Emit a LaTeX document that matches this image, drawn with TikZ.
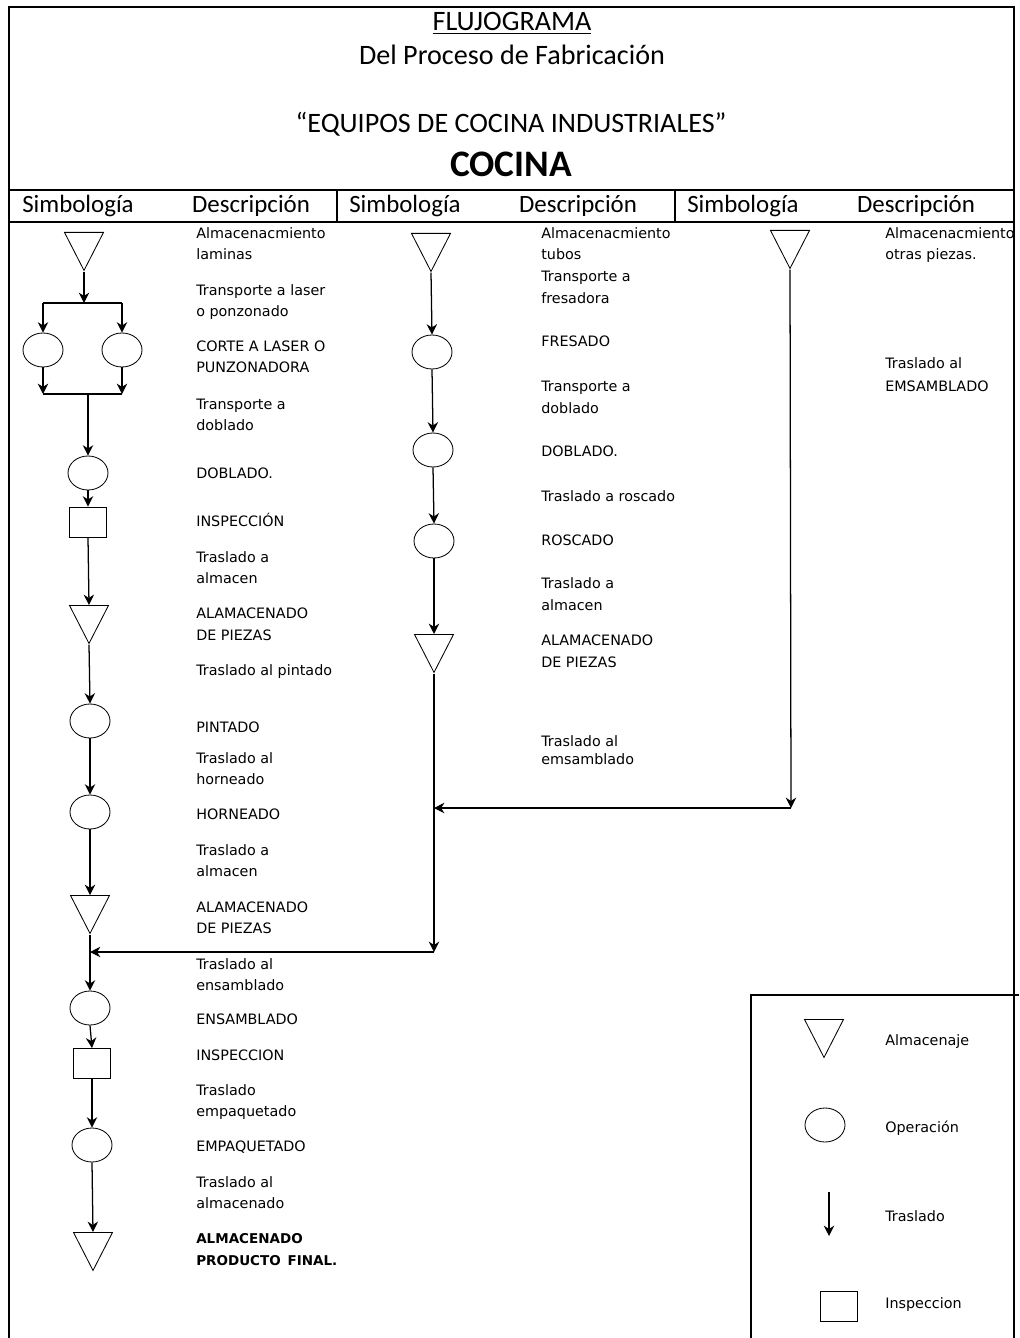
\documentclass[tikz,border=0pt]{standalone}
\usepackage{fontspec}
\setmainfont{Carlito}
\newfontfamily\descfont{DejaVu Sans}
\usetikzlibrary{shapes.geometric,arrows.meta}
\tikzset{
  alm/.style={draw, line width=0.6pt, isosceles triangle, isosceles triangle stretches, shape border rotate=270, minimum width=0.975cm, minimum height=0.95cm, inner sep=0pt, anchor=lower side},
  opera/.style={draw, line width=0.6pt, ellipse, minimum width=1cm, minimum height=0.85cm, inner sep=0pt},
  insp/.style={draw, line width=0.6pt, rectangle, minimum width=0.925cm, minimum height=0.75cm, inner sep=0pt},
  tras/.style={line width=0.9pt, -{Stealth[length=2.6mm,width=2.6mm]}},
  desc/.style={anchor=base west, inner sep=0pt, font=\descfont\fontsize{10.2}{12}\selectfont},
  descb/.style={desc, font=\descfont\bfseries\fontsize{9.6}{12}\selectfont},
  titulo/.style={anchor=base, inner sep=0pt, font=\fontsize{20}{24}\selectfont},
  cabeza/.style={anchor=base, inner sep=0pt, font=\fontsize{17.7}{21}\selectfont}
}
\begin{document}
\begin{tikzpicture}[x=0.025cm, y=-0.025cm]
\useasboundingbox (0,0) rectangle (1019,1338);
\draw[line width=0.8pt] (9,7) rectangle (1014,190);
\draw[line width=0.8pt] (9,190) rectangle (1014,222)
(337,190) -- (337,222) (675,190) -- (675,222);
\draw[line width=0.8pt] (9,222) -- (9,1338) (1014,222) -- (1014,1338);
\draw[line width=0.8pt] (751,1338) -- (751,995) -- (1019,995);

\node[titulo] (tit1) at (512,31) {\underline{FLUJOGRAMA}};
\node[titulo] (tit2) at (512,65) {Del Proceso de Fabricación};
\node[titulo] (tit3) at (511,133) {“EQUIPOS DE COCINA INDUSTRIALES”};
\node[titulo, font=\bfseries\fontsize{26.6}{30}\selectfont] (tit4) at (511,177) {COCINA};
\foreach \x/\t [count=\i] in {78/Simbología,251/Descripción,405/Simbología,578/Descripción,743/Simbología,916/Descripción}
  \node[cabeza] (h\i) at (\x,213) {\t};

\node[alm] (t1) at (84,232) {};
\coordinate (b1l) at (43,303);
\coordinate (b1r) at (122,303);
\node[opera] (e1l) at (43,350) {};
\node[opera] (e1r) at (122,350) {};
\coordinate (b2l) at (43,394);
\coordinate (b2r) at (122,394);
\coordinate (b2m) at (88,394);
\node[opera] (e2) at (88,473) {};
\node[insp] (s1) at (88,522) {};
\node[alm] (t2) at (89,605) {};
\node[opera] (e3) at (90,721) {};
\node[opera] (e4) at (90,812) {};
\node[alm] (t3) at (90,895) {};
\node[opera] (e5) at (90,1008) {};
\node[insp] (s2) at (92,1063.5) {};
\node[opera] (e6) at (92,1145) {};
\node[alm] (t4) at (93,1232) {};

\draw[tras] (t1.apex) -- (t1.apex |- b1l);
\draw[line width=0.9pt] (b1l) -- (b1r) (b2l) -- (b2r);
\draw[tras] (b1l) -- (e1l.north);
\draw[tras] (b1r) -- (e1r.north);
\draw[tras] (e1l.south) -- (b2l);
\draw[tras] (e1r.south) -- (b2r);
\draw[tras] (b2m) -- (e2.north);
\draw[tras] (e2.south) -- (s1.north);
\draw[tras] (s1.south) -- (t2.lower side);
\draw[tras] (t2.apex) -- (e3.north);
\draw[tras] (e3.south) -- (e4.north);
\draw[tras] (e4.south) -- (t3.lower side);
\draw[tras] (t3.apex) -- (e5.north);
\draw[tras] (e5.south) -- (s2.north);
\draw[tras] (s2.south) -- (e6.north);
\draw[tras] (e6.south) -- (t4.lower side);

\node[alm] (t5) at (431,233) {};
\node[opera] (e7) at (432,352) {};
\node[opera] (e8) at (433,450) {};
\node[opera] (e9) at (434,541) {};
\node[alm] (t6) at (434,634) {};
\draw[tras] (t5.apex) -- (e7.north);
\draw[tras] (e7.south) -- (e8.north);
\draw[tras] (e8.south) -- (e9.north);
\draw[tras] (e9.south) -- (t6.lower side);

\node[alm] (t7) at (790,230) {};
\coordinate (j1) at (434,952);
\coordinate (j2) at (791,808);
\draw[tras] (t6.apex) -- (j1);
\draw[tras] (j1) -- (j1 -| t3.apex);
\draw[tras] (t7.apex) -- (j2);
\draw[tras] (j2) -- (j2 -| t6.apex);

\foreach \y/\t in {239/Almacenacmiento,260/laminas,296/Transporte a laser,317/o ponzonado,
  352/CORTE A LASER O,373/PUNZONADORA,409/Transporte a,430/doblado,478/DOBLADO.,
  526/INSPECCIÓN,562/Traslado a,583/almacen,618/ALAMACENADO,640/DE PIEZAS,
  675/Traslado al pintado,732/PINTADO,763/Traslado al,784/horneado,819/HORNEADO,
  855/Traslado a,876/almacen,912/ALAMACENADO,933/DE PIEZAS,969/Traslado al,
  990/ensamblado,1024/ENSAMBLADO,1060/INSPECCION,1095/Traslado,1116/empaquetado,
  1151/EMPAQUETADO,1187/Traslado al,1208/almacenado}
  \node[desc] (d\y) at (196,\y) {\t};
\node[descb] (d1243) at (196,1243) {ALMACENADO};
\node[descb] (d1265) at (196,1265) {PRODUCTO\hspace{0.5em}FINAL.};
\foreach \y/\t in {239/Almacenacmiento,260/tubos,282/Transporte a,304/fresadora,
  347/FRESADO,391/Transporte a,413/doblado,456/DOBLADO.,501/Traslado a roscado,
  545/ROSCADO,588/Traslado a,610/almacen,645/ALAMACENADO,667/DE PIEZAS,
  746/Traslado al,764/emsamblado}
  \node[desc] (m\y) at (541,\y) {\t};
\foreach \y/\t in {239/Almacenacmiento,260/otras piezas.,369/Traslado al,391/EMSAMBLADO}
  \node[desc] (r\y) at (885,\y) {\t};

\node[alm] (lt) at (824,1019) {};
\node[opera] (le) at (825,1125) {};
\node[insp] (ls) at (839,1306.5) {};
\coordinate (la1) at (829,1192);
\coordinate (la2) at (829,1236);
\draw[tras] (la1) -- (la2);
\foreach \y/\t in {1045/Almacenaje,1132/Operación,1221/Traslado,1308/Inspeccion}
  \node[desc] (l\y) at (885,\y) {\t};
\end{tikzpicture}
\end{document}
